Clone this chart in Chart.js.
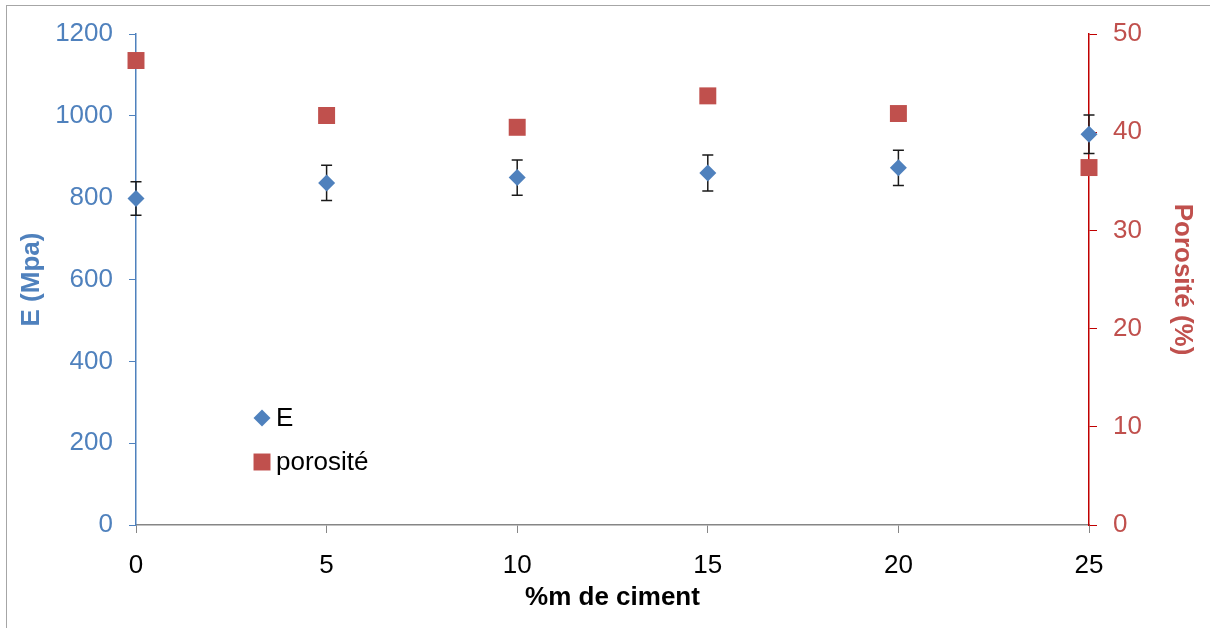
<!DOCTYPE html>
<html>
<head>
<meta charset="utf-8">
<title>E et porosité</title>
<script src="https://cdn.jsdelivr.net/npm/chart.js@4.4.1/dist/chart.umd.min.js"></script>
<style>
  html, body { margin: 0; padding: 0; background: #fff; overflow: hidden; }
  #wrap { position: relative; width: 1210px; height: 628px; }
  #frame { position: absolute; left: 6px; top: 5px; width: 1204px; height: 623px;
           border-left: 1px solid #a6a6a6; border-top: 1px solid #a6a6a6; }
  canvas { position: absolute; left: 0; top: 0; }
</style>
</head>
<body>
<div id="wrap">
  <div id="frame"></div>
  <canvas id="chart" width="1210" height="628"></canvas>
</div>
<script>
"use strict";

// valeurs
const ciment = [0, 5, 10, 15, 20, 25];
const moduleE = [798, 836, 849, 860, 873, 955];
const erreurE = [41, 43, 43, 44, 43, 47];
const porosite = [47.3, 41.7, 40.5, 43.7, 41.9, 36.4];

const bleu = '#4f81bd';
const rouge = '#c0504d';
const police = "'Liberation Sans', Arial, sans-serif";

// barres d'erreur sur E (dessinées sous les marqueurs)
const errorBars = {
    id: 'errorBars',
    beforeDatasetsDraw(chart) {
        const ctx = chart.ctx;
        const xs = chart.scales.x;
        const ys = chart.scales.y;
        ctx.save();
        ctx.strokeStyle = '#1a1a1a';
        ctx.lineWidth = 1.5;
        ciment.forEach((c, i) => {
            const px = xs.getPixelForValue(c);
            const top = ys.getPixelForValue(moduleE[i] + erreurE[i]);
            const bot = ys.getPixelForValue(moduleE[i] - erreurE[i]);
            ctx.beginPath();
            ctx.moveTo(px, top); ctx.lineTo(px, bot);
            ctx.moveTo(px - 5.5, top); ctx.lineTo(px + 5.5, top);
            ctx.moveTo(px - 5.5, bot); ctx.lineTo(px + 5.5, bot);
            ctx.stroke();
        });
        ctx.restore();
    }
};

// légende placée dans la zone du graphique
const innerLegend = {
    id: 'innerLegend',
    afterDraw(chart) {
        const ctx = chart.ctx;
        const area = chart.chartArea;
        ctx.save();
        ctx.font = '26px ' + police;
        ctx.textBaseline = 'middle';
        chart.data.datasets.forEach((ds, i) => {
            const x = area.left + 126;
            const y = area.top + 384 + i * 44;
            ctx.fillStyle = ds.backgroundColor;
            Chart.helpers.drawPoint(ctx, {
                pointStyle: ds.pointStyle,
                radius: ds.pointStyle === 'rect' ? 12 : 8.5,
                rotation: 0,
                borderWidth: 0
            }, x, y);
            ctx.fillStyle = '#000';
            ctx.fillText(ds.label, area.left + 140, y + 1);
        });
        ctx.restore();
    }
};

const ctx = document.getElementById('chart');

const chart = new Chart(ctx, {
    type: 'scatter',
    data: {
        datasets: [{
            label: 'E',
            data: ciment.map((c, i) => ({ x: c, y: moduleE[i] })),
            yAxisID: 'y',
            pointStyle: 'rectRot',
            pointRadius: 8.5,
            pointHoverRadius: 8.5,
            backgroundColor: bleu,
            borderColor: bleu,
            borderWidth: 0,
            clip: false
        }, {
            label: 'porosité',
            data: ciment.map((c, i) => ({ x: c, y: porosite[i] })),
            yAxisID: 'y1',
            pointStyle: 'rect',
            pointRadius: 12,
            pointHoverRadius: 12,
            backgroundColor: rouge,
            borderColor: rouge,
            borderWidth: 0,
            clip: false
        }]
    },
    options: {
        responsive: false,
        animation: false,
        layout: { padding: { top: 34, left: 0, right: 0, bottom: 0 } },
        plugins: {
            legend: { display: false },
            tooltip: { enabled: false }
        },
        scales: {
            x: {
                type: 'linear',
                min: 0,
                max: 25,
                ticks: { stepSize: 5, color: '#000', padding: 17, font: { family: police, size: 26 } },
                grid: { drawOnChartArea: false, tickLength: 8, color: '#868686' },
                border: { color: '#868686', width: 1.5 },
                title: {
                    display: true,
                    text: '%m de ciment',
                    color: '#000',
                    padding: { top: 0, bottom: 15 },
                    font: { family: police, size: 26, weight: 'bold' }
                },
                afterFit(scale) { scale.height = 103; }
            },
            y: {
                position: 'left',
                min: 0,
                max: 1200,
                ticks: {
                    stepSize: 200,
                    color: bleu,
                    padding: 16,
                    font: { family: police, size: 26 },
                    callback: v => String(v)
                },
                grid: { drawOnChartArea: false, tickLength: 7, color: bleu },
                border: { color: bleu, width: 1.5 },
                title: {
                    display: true,
                    text: 'E (Mpa)',
                    color: bleu,
                    padding: { top: 16, bottom: 0 },
                    font: { family: police, size: 26, weight: 'bold' }
                },
                afterFit(scale) { scale.width = 136; }
            },
            y1: {
                position: 'right',
                min: 0,
                max: 50,
                ticks: { stepSize: 10, color: rouge, padding: 16, font: { family: police, size: 26 } },
                grid: { drawOnChartArea: false, tickLength: 8, color: '#c00000' },
                border: { color: '#c00000', width: 1.5 },
                title: {
                    display: true,
                    text: 'Porosité (%)',
                    color: rouge,
                    padding: { top: 12, bottom: 0 },
                    font: { family: police, size: 26, weight: 'bold' }
                },
                afterFit(scale) { scale.width = 121; }
            }
        }
    },
    plugins: [errorBars, innerLegend]
});
</script>
</body>
</html>
